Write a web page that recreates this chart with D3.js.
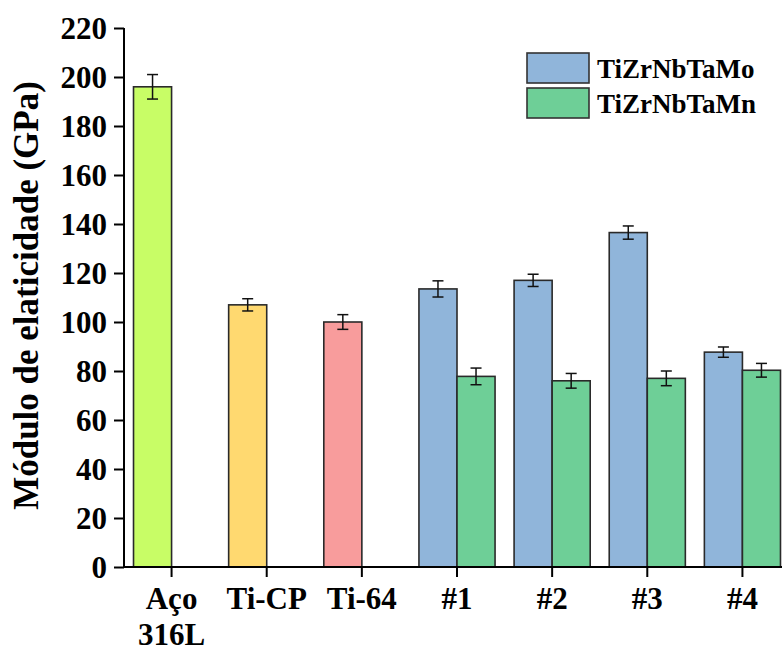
<!DOCTYPE html>
<html>
  <head>
    <meta charset="utf-8">
    <script src="https://d3js.org/d3.v7.min.js"></script>
  </head>
  <body style="margin:0">
    <script>
      // data
      const categories = ["Aço 316L", "Ti-CP", "Ti-64", "#1", "#2", "#3", "#4"];
      const catLabels = [["Aço", "316L"], ["Ti-CP"], ["Ti-64"], ["#1"], ["#2"], ["#3"], ["#4"]];

      const refNames = ["Aço 316L", "Ti-CP", "Ti-64"];
      const refValues = [196, 107, 100];
      const refErrors = [5, 2.5, 3];
      const refColors = ["#c8fd66", "#ffd970", "#f89c9c"];

      const alloyNames = ["#1", "#2", "#3", "#4"];
      const moValues = [113.5, 117, 136.5, 87.7];
      const moErrors = [3.3, 2.5, 2.7, 2.1];
      const mnValues = [77.8, 76, 77, 80.3];
      const mnErrors = [3.4, 3, 3, 2.8];

      const seriesNames = ["TiZrNbTaMo", "TiZrNbTaMn"];
      const seriesColors = ["#90b5da", "#6ecf97"];

      const yTicks = [0, 20, 40, 60, 80, 100, 120, 140, 160, 180, 200, 220];

      const FONT = "'Liberation Serif'";

      // layout
      const W = 782, H = 651;
      const mLeft = 124, mRight = 790, mTop = 28, mBottom = 567;

      const svg = d3.select("body").append("svg")
        .attr("width", W).attr("height", H);

      const x = d3.scaleBand().domain(categories).range([mLeft, mRight]);
      const y = d3.scaleLinear().domain([0, 220]).range([mBottom, mTop]);
      const bw = x.bandwidth() * 0.4;
      const center = c => x(c) + x.bandwidth() / 2;

      // helper: serif bold text
      function serif(sel, size) {
        return sel.style("font-family", FONT).attr("font-size", size).attr("font-weight", "bold");
      }

      // flatten bars into one list
      let bars = [];
      refNames.forEach((c, i) => bars.push({x0: center(c) - bw, v: refValues[i], e: refErrors[i], color: refColors[i]}));
      alloyNames.forEach((c, i) => {
        bars.push({x0: center(c) - bw, v: moValues[i], e: moErrors[i], color: seriesColors[0]});
        bars.push({x0: center(c), v: mnValues[i], e: mnErrors[i], color: seriesColors[1]});
      });

      svg.append("g").selectAll("rect").data(bars).join("rect")
        .attr("x", d => d.x0)
        .attr("y", d => y(d.v))
        .attr("width", bw)
        .attr("height", d => y(0) - y(d.v))
        .attr("fill", d => d.color)
        .attr("stroke", "#2a2a2a")
        .attr("stroke-width", 1.6);

      // error bars
      const eb = svg.append("g").attr("stroke", "#111").attr("stroke-width", 1.5);
      bars.forEach(d => {
        const cx = d.x0 + bw / 2;
        eb.append("line").attr("x1", cx).attr("x2", cx).attr("y1", y(d.v + d.e)).attr("y2", y(d.v - d.e));
        eb.append("line").attr("x1", cx - 5.5).attr("x2", cx + 5.5).attr("y1", y(d.v + d.e)).attr("y2", y(d.v + d.e));
        eb.append("line").attr("x1", cx - 5.5).attr("x2", cx + 5.5).attr("y1", y(d.v - d.e)).attr("y2", y(d.v - d.e));
      });

      // y axis
      const yAxis = svg.append("g")
        .attr("transform", "translate(" + mLeft + ",0)")
        .call(d3.axisLeft(y).tickValues(yTicks).tickSize(10).tickPadding(7));
      yAxis.attr("font-family", null).attr("font-size", null);
      yAxis.select(".domain").attr("stroke", "#000").attr("stroke-width", 2).attr("d", "M0," + mBottom + "V" + mTop);
      yAxis.selectAll(".tick line").attr("stroke", "#000").attr("stroke-width", 2);
      serif(yAxis.selectAll(".tick text"), 31).attr("fill", "#000").attr("dy", "0.34em");

      // x axis
      const xAxis = svg.append("g")
        .attr("transform", "translate(0," + mBottom + ")")
        .call(d3.axisBottom(x).tickSize(10).tickFormat(""));
      xAxis.select(".domain").attr("stroke", "#000").attr("stroke-width", 2).attr("d", "M" + mLeft + ",0H" + mRight);
      xAxis.selectAll(".tick line").attr("stroke", "#000").attr("stroke-width", 2);

      const xl = serif(svg.append("g").selectAll("text").data(categories).join("text"), 31)
        .attr("text-anchor", "middle")
        .attr("x", d => center(d));
      xl.each(function(d, i) {
        d3.select(this).selectAll("tspan").data(catLabels[i]).join("tspan")
          .attr("x", center(d))
          .attr("y", (t, j) => 609 + j * 36)
          .text(t => t);
      });

      // y title
      serif(svg.append("text"), 35)
        .attr("transform", "translate(38," + ((mTop + mBottom) / 2 - 2) + ") rotate(-90)")
        .attr("text-anchor", "middle")
        .text("Módulo de elaticidade (GPa)");

      // legend
      const lg = svg.append("g");
      seriesNames.forEach((s, i) => {
        lg.append("rect").attr("x", 527).attr("y", 53 + i * 35).attr("width", 62).attr("height", 30)
          .attr("fill", seriesColors[i]).attr("stroke", "#333").attr("stroke-width", 1.6);
        serif(lg.append("text"), 27).attr("x", 597).attr("y", 78 + i * 35).text(s);
      });
    </script>
  </body>
</html>
